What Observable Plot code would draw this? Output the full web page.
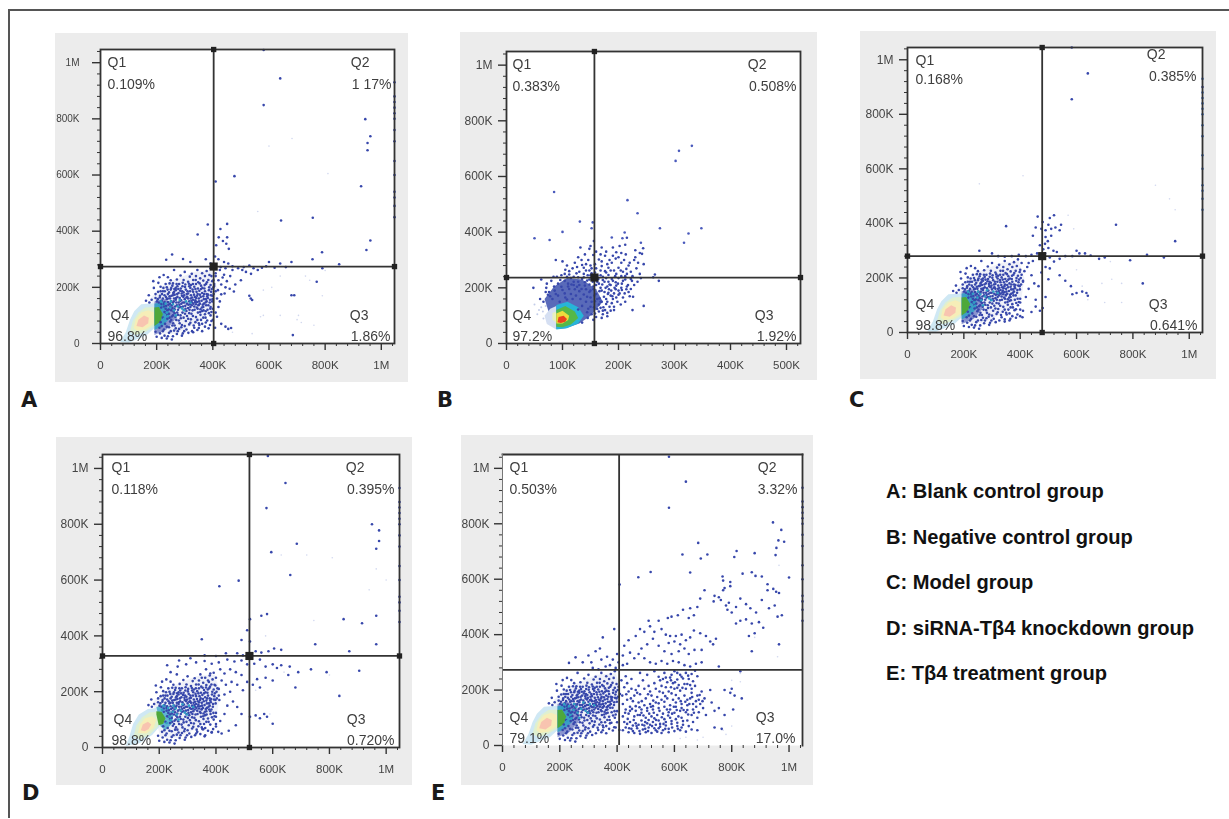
<!DOCTYPE html>
<html><head><meta charset="utf-8">
<script src="https://cdn.jsdelivr.net/npm/d3@7"></script>
<script src="https://cdn.jsdelivr.net/npm/@observablehq/plot@0.6"></script>
<style>
html,body{margin:0;padding:0;background:#fff;}
#fig{position:relative;width:1229px;height:819px;overflow:hidden;font-family:"Liberation Sans",Arial,sans-serif;}
#fig>div{position:absolute;}
.lg{font-weight:bold;font-size:20.1px;color:#111;white-space:nowrap;}
.let{font-family:"DejaVu Sans";font-weight:bold;font-size:21px;color:#1a1a1a;}
svg{display:block;}
</style></head><body><div id="fig"></div>
<script>
// ---------- values (all in thousands of events) ----------
const legendLines=["A: Blank control group","B: Negative control group","C: Model group","D: siRNA-Tβ4 knockdown group","E: Tβ4 treatment group"];
const quadA=["0.109%","1 17%","1.86%","96.8%"], quadB=["0.383%","0.508%","1.92%","97.2%"], quadC=["0.168%","0.385%","0.641%","98.8%"], quadD=["0.118%","0.395%","0.720%","98.8%"], quadE=["0.503%","3.32%","17.0%","79.1%"];
const yTicks=[0,200,400,600,800,1000], yMinor=[40,80,120,160,240,280,320,360,440,480,520,560,640,680,720,760,840,880,920,960,1040];
const xTicks1M=[0,200,400,600,800,1000], xTicks500=[0,100,200,300,400,500];
const xMinor1M=yMinor, xMinor500=[20,40,60,80,120,140,160,180,220,240,260,280,320,340,360,380,420,440,460,480,520];

const rightColumn=[930,880,860,840,820,800,760,720,650,600,540,520,490,450];
const sharedCloud=[[262,262],[300,255],[325,248],[345,262],[362,250],[378,258],[392,268],[285,242],[318,238],[340,240],[355,232],[372,240],[388,244],[240,236],[210,236],[225,244],
[250,225],[272,228],[296,226],[312,220],[330,226],[348,218],[366,224],[384,226],[398,222],[232,212],[258,214],[280,212],[302,210],[322,208],[340,212],[358,206],[376,212],[392,208],[206,216],[188,222],
[190,198],[214,202],[236,200],[250,192],[268,198],[286,196],[304,192],[320,198],[338,194],[352,188],[370,196],[386,190],[402,200],[222,186],[244,182],[262,184],[278,180],[296,182],[312,178],[330,184],[346,176],[362,180],[378,176],[394,184],[410,186],
[172,172],[196,176],[212,170],[228,172],[246,168],[258,172],[274,166],[290,170],[306,164],[322,172],[336,166],[350,160],[366,168],[382,162],[398,170],[182,156],[204,158],[218,152],[236,158],[252,150],[268,156],[284,152],[300,158],[316,150],[330,156],[344,148],[360,152],[378,150],[162,152],[174,146],
[226,142],[242,138],[258,144],[272,136],[288,142],[302,134],[318,140],[334,132],[350,138],[366,130],[384,136],[400,124],[216,128],[232,124],[248,130],[264,122],[280,128],[296,120],[312,126],[328,118],[346,124],[362,116],
[228,112],[244,106],[260,114],[276,102],[292,110],[308,98],[324,106],[340,94],[356,102],[374,92],[392,100],[222,92],[238,88],[254,96],[270,84],[286,90],[304,80],[322,86],[338,76],[358,84],
[214,76],[230,70],[248,78],[264,64],[282,72],[300,62],[316,68],[334,56],[352,66],[372,60],[390,66],[408,56],[210,56],[226,50],[244,58],[262,46],[280,52],[298,44],
[196,42],[212,36],[228,28],[244,38],[258,26],[272,34],[290,28],[200,24],[218,20],[236,18],[254,14],
[256,206],[268,190],[274,204],[284,188],[292,204],[298,172],[310,186],[316,204],[326,164],[328,192],[334,202],[342,184],[344,170],[354,174],[358,194],[368,158],[372,186],[374,146],[380,168],[390,156],[264,174],[270,146],[282,162],[294,146],[308,142],[312,160],[326,146],[338,154],[340,140],[354,142],[356,122],[368,142],[240,176],[248,160],[254,136],[262,160],[276,120],[286,130],[294,132],[306,116],[320,130],[196,162],[208,146],[214,186],[222,160],[228,148],[234,134],[240,148],[238,118],[244,122],[252,118],[258,100],[264,108],[266,132]];
const denseExtra=[[252,198],[259,180],[271,212],[277,194],[289,178],[293,216],[301,201],[307,176],[315,213],[319,186],[324,152],[329,212],[333,174],[337,148],[339,226],[347,196],[349,136],[353,214],[357,166],[363,198],[364,138],[369,176],[371,208],[375,158],[379,218],[383,174],[387,200],[389,146],[393,172],[396,194],[399,158],[403,176],[405,212],[246,214],[239,192],[233,166],[229,186],[224,198],[219,176],[216,140],[211,164],[205,184],[201,150],[226,132],[233,110],[240,160],[247,142],[253,170],[256,126],[261,150],[263,194],[269,162],[273,176],[278,146],[281,138],[287,154],[291,186],[295,166],[299,146],[303,124],[309,166],[313,138],[317,120],[321,160],[325,136],[331,142],[335,120],[341,162],[343,128],[347,110],[351,150],[355,112],[361,128],[367,118],[372,104],[376,136],[381,120],[386,108],[391,124],[395,112],[238,102],[246,92],[252,84],[259,72],[267,94],[273,110],[279,82],[285,100],[290,66],[296,92],[301,106],[312,88],[316,108],[320,74],[329,98],[332,64],[345,84],[350,72],[362,70],[366,92],[380,82],[385,54],[400,84],[218,62],[222,44],[236,60],[240,26],[250,44],[256,64],[268,54],[275,44],[288,58],[293,36],[306,50],[313,38],[326,44],[345,48],[362,44]];
const tealDots=[[215,150],[232,142],[248,128],[262,118],[240,98],[226,88],[258,140],[275,132],[290,125],[305,150],[320,145],[210,135],[236,110],[268,100],[282,155],[298,118],[250,150]];

const sideA=[[581,1045],[640,944],[581,849],[943,799],[961,738],[951,714],[951,688],[928,560],[477,596],[410,577],[756,448],[643,438],[961,367],[947,333],[789,325],[382,424],[346,388],[451,426],[427,408],[451,378],[457,337],[421,378],[436,365],[412,350],[448,355],[255,317],[234,298],[294,301],[320,290],[375,300],[392,285],[408,310],[420,300],[440,290],[455,285],[470,275],[490,268],[510,272],[530,278],[545,268],[560,262],[575,270],[600,290],[590,275],[620,270],[640,285],[660,272],[680,290],[755,300],[790,268],[850,282],[505,262],[518,255],[536,248],[470,262],[445,268],[428,272],[410,240],[420,225],[430,210],[445,200],[460,195],[475,185],[430,175],[415,160],[425,150],[420,130],[410,110],[415,95],[430,70],[445,60],[455,52],[465,55],[530,170],[535,160],[540,155],[680,172],[690,172],[685,30],[770,220],[435,235],[450,222],[462,240],[480,210],[500,225],[405,205],[418,190],[442,178],[410,250],[425,262],[440,245],[395,240],[402,225],[398,150],[392,130],[375,115],[350,55],[330,40],[375,75],[395,80]];
const paleA=[[682,730],[600,703],[810,605],[560,470],[580,100],[570,95],[700,85],[705,100],[715,75],[730,240],[745,225],[790,170],[640,240],[610,200],[580,190],[470,40],[540,35],[640,100],[760,65],[800,260]];

const sideB=[[85,544],[131,438],[100,401],[50,378],[77,372],[154,435],[152,414],[216,515],[234,468],[302,656],[308,692],[331,710],[274,414],[348,414],[325,395],[317,362],[211,399],[188,381],[207,378],[240,362]];
const cloudB=[[71,200],[82,160],[95,150],[105,165],[115,178],[100,192],[88,178],[78,170],[110,205],[122,195],[130,210],[140,220],[148,230],[158,240],[168,245],[178,255],[188,232],[195,220],[206,215],[215,205],[222,196],[228,210],[180,205],[170,190],[160,178],[150,165],[142,150],[135,135],[128,122],[120,110],[146,125],[152,105],[160,95],[156,130],[170,150],[178,160],[186,172],[192,180],[200,190],[208,165],[188,145],[176,120],[198,150],[165,115],[172,105],[155,85],[145,92],[135,75],[125,68],[115,58],[105,52],[96,45],[88,58],[165,140],[175,185],[183,195],[190,160],[168,200],[155,205],[142,195],[130,188],[118,160],[112,140],[120,222],[128,238],[112,248],[105,265],[98,245],[118,270],[130,258],[138,272],[148,262],[158,285],[170,278],[182,272],[165,302],[155,318],[148,340],[176,260],[188,290],[195,305],[205,290],[213,320],[220,290],[230,310],[238,325],[244,342],[245,285],[232,270],[215,250],[225,242],[240,235],[265,248],[272,225],[262,238],[192,262],[200,272],[208,258],[218,280],[178,330],[170,345],[190,345],[202,350],[212,355],[215,380],[88,300],[100,295],[108,280],[122,290],[135,282],[146,300],[140,320],[128,310],[150,350],[156,368],[132,345],[200,235],[212,230],[194,242],[158,255],[145,245],[135,232],[125,252],[115,235],[104,225],[92,215],[85,205],[76,185],[66,150],[60,160],[48,200],[62,230],[120,210],[110,215],[182,222],[172,228],[162,222],[150,245],[142,262],[206,192],[218,185],[226,168],[204,140],[212,150],[192,120],[180,98],[170,92],[245,135],[225,120],[200,175],[195,195],[186,210],[178,235],[168,262],[152,270],[138,250],[128,222],[165,215],[155,195],[148,185],[182,182],[174,168],[166,162],[158,152],[196,208],[190,225],[205,242],[214,268],[222,258],[184,300],[176,315],[196,328],[160,330],[168,320],[205,325],[228,300],[235,290],[242,322],[230,335],
[86,190],[92,172],[98,204],[104,180],[108,158],[112,196],[116,212],[124,172],[126,204],[132,160],[134,196],[138,176],[140,208],[144,168],[148,212],[150,190],[152,150],[154,222],[157,172],[160,210],[162,160],[164,232],[166,188],[168,150],[171,212],[173,130],[175,222],[177,200],[180,150],[181,178],[184,212],[187,190],[189,170],[193,200],[196,165],[199,215],[202,180],[205,200],[208,225],[211,180],[214,195],[217,210],[220,170],[224,225],[192,132],[184,132],[178,142],[186,118],[168,128],[162,124],[158,108],[150,132],[144,112],[180,110],[172,118],[138,238],[144,226],[152,252],[162,244],[172,240],[182,246],[186,262],[196,250],[204,262],[212,242],[222,232],[234,222],[238,250],[120,240],[108,240],[96,228],[90,240],[80,225],[72,215],[84,240],[74,175],[70,185],[126,275],[134,300],[142,285],[150,280],[160,270],[170,295],[180,285],[190,315],[200,310],[210,300],[112,260],[104,250]];
const paleB=[[62,130],[58,120],[50,140],[70,135],[65,115],[55,105],[72,100],[66,90],[78,118],[74,80]];

const sideC=[[583,1045],[640,950],[583,855],[1047,900],[445,355],[455,385],[462,425],[480,405],[475,380],[490,375],[500,395],[510,380],[490,350],[505,420],[520,430],[525,385],[540,375],[545,395],[510,355],[498,335],[488,325],[470,320],[482,305],[500,310],[518,300],[530,295],[350,390],[255,300],[300,290],[322,280],[345,278],[370,280],[395,285],[420,280],[440,285],[460,290],[472,278],[488,290],[505,275],[520,260],[540,270],[560,280],[585,280],[600,300],[610,290],[630,290],[650,282],[680,270],[700,275],[740,395],[790,265],[850,285],[910,275],[950,335],[540,210],[560,190],[580,170],[585,140],[600,145],[620,150],[635,145],[640,135],[470,80],[480,90],[455,120],[465,170],[475,220],[490,240],[505,235],[500,195],[490,130],[450,180],[440,210],[425,240],[430,255],[445,262],[405,255],[415,225],[410,190],[400,230],[430,160],[420,130],[400,110],[385,85],[365,50],[345,40],[400,60],[440,75],[455,95],[410,80],[835,180]];
const paleC=[[410,575],[255,545],[930,490],[570,430],[590,380],[700,280],[720,260],[760,180],[725,195],[690,180],[620,170],[600,230],[640,120],[700,110],[760,110],[880,540],[950,450]];

const sideD=[[583,1045],[645,948],[578,858],[950,800],[975,778],[965,712],[975,740],[685,730],[595,700],[662,618],[480,598],[412,578],[520,460],[560,472],[580,478],[510,420],[520,380],[490,385],[350,388],[850,460],[965,472],[915,445],[750,370],[870,345],[965,370],[630,350],[605,355],[585,345],[560,340],[540,345],[495,330],[475,338],[435,338],[400,328],[360,330],[310,320],[270,312],[228,295],[240,270],[265,290],[295,298],[330,305],[360,310],[385,300],[410,305],[440,315],[465,308],[490,312],[510,298],[535,300],[555,315],[575,290],[600,298],[615,285],[630,295],[660,290],[655,260],[690,270],[735,280],[905,275],[790,270],[835,185],[680,215],[600,240],[575,250],[545,245],[530,225],[555,215],[510,235],[490,260],[470,270],[450,280],[430,265],[415,280],[400,250],[380,265],[365,280],[350,250],[420,240],[435,225],[455,235],[475,225],[495,205],[450,200],[430,190],[410,210],[395,225],[375,235],[365,215],[412,170],[440,150],[460,165],[475,145],[490,120],[520,110],[540,115],[555,105],[570,120],[580,110],[600,85],[430,120],[415,95],[400,75],[445,60],[470,80],[420,50],[385,55],[360,40],[330,50],[355,65],[400,110],[380,130]];
const paleD=[[1000,600],[940,565],[810,680],[720,690],[630,690],[745,455],[575,400],[640,270],[540,205],[590,120],[800,260],[965,640]];

const sideE=[[581,1042],[640,952],[581,858],[944,805],[973,778],[963,740],[983,735],[956,713],[953,687],[683,731],[692,675],[715,689],[628,689],[817,702],[809,680],[880,694],[517,626],[474,607],[655,624],[409,581],[1000,606],
[870,625],[883,612],[838,620],[770,595],[768,610],[795,590],[770,560],[775,568],[795,575],[740,540],[737,520],[755,535],[762,525],[780,505],[790,515],[785,490],[800,480],[815,500],[830,530],[850,510],[865,495],[885,480],[905,525],[925,560],[945,565],[955,555],[965,550],[930,495],[950,505],[960,465],[815,440],[830,450],[850,455],[870,440],[895,445],[910,425],[860,395],[880,405],[965,365],[870,340],[975,470],[905,610],[925,582],[705,560],[690,530],[680,500],[655,495],[668,470],[650,460],[630,490],[612,470],[590,465],[577,460],[545,450],[510,450],[515,430],[480,420],[495,410],[530,410],[555,420],[570,400],[585,395],[605,395],[625,400],[600,375],[580,370],[620,365],[640,380],[655,390],[668,415],[690,405],[710,395],[725,375],[735,365],[745,385],[695,345],[670,345],[650,330],[635,350],[615,340],[590,330],[565,340],[545,360],[525,385],[505,365],[485,350],[465,395],[440,380],[425,360],[445,335],[460,315],[475,330],[495,315],[515,300],[535,295],[555,305],[575,295],[595,305],[615,300],[635,290],[655,285],[675,295],[695,300],[755,285],[830,268],[435,295],[420,290],[405,300],[390,420],[350,390],[340,350],[325,340],[300,325],[280,300],[255,318],[232,298],[310,300],[345,310],[365,320],[385,310],[400,330],[420,325],[375,290],[395,280],[360,285],[335,275],[315,280]];
const cloudE=[[600,268],[640,262],[660,258],[672,270],[620,255],[565,262],[530,268],[480,262],[505,255],[545,248],[585,245],[610,238],[630,242],[650,240],[665,232],[680,250],[672,215],[655,218],[635,222],[615,218],[595,225],[575,228],[555,215],[535,205],[515,195],[495,205],[475,215],[450,240],[430,250],[415,235],[425,210],[440,195],[460,180],[480,185],[500,170],[520,180],[540,175],[560,190],[580,195],[600,205],[620,198],[640,205],[660,190],[680,180],[695,195],[705,170],[690,150],[675,160],[655,170],[635,180],[615,170],[595,165],[575,170],[555,165],[535,155],[515,150],[495,145],[475,155],[455,160],[435,165],[420,150],[430,130],[445,140],[465,125],[485,130],[505,125],[525,130],[545,135],[565,140],[585,145],[605,140],[625,150],[645,145],[665,130],[685,120],[700,135],[680,100],[660,110],[640,120],[620,125],[600,118],[580,120],[560,115],[540,110],[520,105],[500,100],[480,110],[460,105],[440,115],[420,105],[425,85],[445,85],[465,80],[485,90],[505,80],[525,85],[545,90],[565,95],[585,100],[605,95],[625,100],[645,90],[665,85],[650,70],[630,75],[610,70],[590,78],[570,72],[550,68],[530,62],[510,65],[490,58],[470,62],[450,60],[430,65],[420,55],[440,48],[460,45],[480,42],[500,48],[520,45],[540,50],[560,55],[580,60],[600,52],[620,55],[640,50],[660,58],[680,55],[570,245],[590,255],[610,208],[590,188],[570,210],[550,235],[530,225],[510,215],[490,235],[470,190],[450,205],[435,225],[660,205],[645,165],[625,135],[605,155],[585,130],[565,158],[545,152],[525,142],[505,135],[485,118],[465,142],[445,125],[645,128],[665,150],[685,165],[510,92],[530,98],[550,78],[570,85],[590,88],[610,82],[630,88],[495,72],[475,75],[455,72],[435,78],[515,75],[535,75],[725,200],[730,155],[740,125],[755,135],[775,110],[775,200],[795,190],[810,180],[805,130],[800,205],[835,170],[740,65],[765,60],[710,110],[395,65],[375,80],[350,55],
[428,118],[437,96],[452,132],[458,92],[472,110],[478,138],[492,108],[498,85],[512,115],[518,140],[528,118],[536,92],[548,125],[556,102],[562,78],[574,130],[578,108],[592,115],[598,140],[608,128],[614,105],[622,160],[632,128],[638,158],[648,112],[652,150],[668,118],[676,140],[688,182],[698,160],[442,62],[455,52],[468,70],[478,52],[488,75],[498,60],[508,52],[522,70],[535,55],[545,62],[555,45],[568,60],[580,48],[592,65],[612,60],[625,65],[418,180],[432,185],[448,170],[465,200],[486,160],[508,185],[526,162],[548,195],[568,178],[588,210],[605,182],[628,208],[645,222],[662,175],[610,262],[625,248],[648,252],[588,235],[602,228],[560,240]];
const paleE=[[770,55],[780,40],[700,30],[680,20],[640,30],[800,70],[830,260],[800,235],[830,230],[960,320],[965,650],[880,390],[620,25]];

// density contours of the core (pale left of the cut, saturated right of it)
const corePale=[[70,5],[90,40],[105,85],[120,115],[145,140],[192,143],[192,55],[165,30],[130,15],[100,3]];
const coreGreen=[[105,42],[115,80],[135,110],[160,128],[192,130],[192,62],[160,42],[125,30]];
const coreYellow=[[118,55],[125,85],[145,110],[170,118],[190,110],[190,70],[160,50],[130,45]];
const corePink=[[128,62],[135,85],[155,100],[172,92],[170,72],[150,58]];
const haze=[[205,35],[190,90],[180,165],[235,215],[330,255],[395,262],[415,200],[405,130],[345,75],[270,35]];
const sideNavy=[[192,30],[192,150],[225,160],[265,130],[265,85],[235,50]];
const sideTeal=[[192,48],[192,142],[222,150],[245,120],[245,88],[222,62]];
const sideGreen=[[192,62],[192,128],[208,130],[222,105],[214,78]];
const dPale=[[82,5],[95,40],[108,85],[128,118],[160,138],[190,142],[216,125],[205,80],[175,45],[130,15]];
const dGreen=[[110,40],[120,80],[140,108],[165,125],[190,128],[205,112],[195,75],[165,45],[130,30]];
const dYellow=[[125,52],[132,82],[150,105],[175,112],[190,100],[180,70],[155,50]];
const dPink=[[135,62],[142,82],[160,92],[172,82],[162,65],[148,58]];
const dTeal=[[205,75],[190,145],[222,155],[250,118],[245,85],[222,62]];
const dLeaf=[[198,80],[190,118],[190,130],[208,128],[222,105],[214,85]];

const bNavy=[[89,52],[76,110],[68,160],[85,205],[108,235],[135,230],[160,195],[172,150],[150,100],[130,72],[105,55]];
const bPale=[[89,135],[78,125],[68,100],[72,70],[89,50]];
const bPaleYellow=[[89,75],[82,85],[82,110],[89,115]];
const bCyan=[[89,50],[89,138],[109,150],[128,130],[138,100],[128,72],[108,55]];
const bGreen=[[89,60],[89,120],[105,135],[122,115],[128,92],[115,68],[100,58]];
const bYellow=[[89,72],[89,108],[100,118],[112,100],[110,84],[100,72]];
const bRed=[[91,76],[93,95],[102,100],[108,88],[105,78],[97,74]];

// ---------- panels ----------
const C={navy:"#3747ab",teal:"#2f9fc4",grn:"#4ea83a"};
const poly=(d,fill,o=1)=>Plot.line(d,{x:d=>d[0],y:d=>d[1],fill,stroke:"none",fillOpacity:o});
const dots=(d,fill,o=1,r=1.3)=>Plot.dot(d,{x:d=>d[0],y:d=>d[1],r,fill,stroke:"none",fillOpacity:o});
const coreA=[poly(haze,C.navy,.08),poly(corePale,"#cfe8f4"),poly(coreGreen,"#dff0d0"),poly(coreYellow,"#f6eeb8"),poly(corePink,"#f8c4b0"),poly(sideNavy,C.navy,.55),poly(sideTeal,C.teal,.85),poly(sideGreen,C.grn)];
const coreD=[poly(haze,C.navy,.08),poly(dPale,"#cfe8f4"),poly(dGreen,"#dff0d0"),poly(dYellow,"#f6eeb8"),poly(dPink,"#f8c4b0"),poly(dTeal,C.teal,.75),poly(dLeaf,C.grn)];
const coreB=[poly(bNavy,"#2f45a8",.8),poly(bPale,"#d5dff2"),poly(bCyan,"#27b5d8"),poly(bPaleYellow,"#e8f0c0"),poly(bGreen,"#55b848"),poly(bYellow,"#ecdc3c"),poly(bRed,"#e8421e")];

function panel(cfg){
  const {box,frame,xMax,yMax,gx,gy,quad,xt,xm,layers,handles=true,openFrame=false,yFont=12,yPad=6,q}=cfg;
  const [bl,bt,br,bb]=box,[fl,ft,fr,fb]=frame;
  const fmt=v=>v===0?"0":v>=1000?"1M":v+"K";
  const qt=(text,anchor,dx,dy)=>Plot.text([text],{text:d=>d,frameAnchor:anchor,dx,dy,textAnchor:anchor.includes("left")?"start":"end",lineAnchor:"bottom",fontSize:14,fill:"#3e3e3e"});
  const noLabel=()=>"";
  const marks=[
    Plot.frame({fill:"white",stroke:"none"}),
    ...layers,
    Plot.ruleX([gx],{stroke:"#333",strokeWidth:1.8}),
    Plot.ruleY([gy],{stroke:"#333",strokeWidth:1.8}),
    Plot.axisX({ticks:xm,tickSize:3,tickFormat:noLabel,stroke:"#333",label:null}),
    Plot.axisX({ticks:xt,tickSize:7,tickPadding:10,tickFormat:fmt,fontSize:11.5,fill:"#444",stroke:"#333",label:null,strokeWidth:1.4}),
    Plot.axisY({ticks:yMinor,tickSize:3,tickFormat:noLabel,stroke:"#333",label:null}),
    Plot.axisY({ticks:yTicks,tickSize:8,tickPadding:yPad,tickFormat:fmt,fontSize:yFont,fill:"#444",stroke:"#333",label:null,strokeWidth:1.4}),
    qt("Q1","top-left",q.l,17),qt(quad[0],"top-left",q.l,q.v1),
    qt("Q2","top-right",-q.q2,q.t2),qt(quad[1],"top-right",-q.r2,q.t2+22),
    qt("Q3","bottom-right",-q.q3,-24),qt(quad[2],"bottom-right",-q.r3,-3),
    qt("Q4","bottom-left",q.q4,-24),qt(quad[3],"bottom-left",q.l,-3)
  ];
  if(openFrame){
    marks.push(Plot.frame({anchor:"top",stroke:"#333",strokeWidth:1.8}),Plot.frame({anchor:"right",stroke:"#333",strokeWidth:1.8}),Plot.frame({anchor:"left",stroke:"#777",strokeWidth:1}));
  }else{
    marks.push(Plot.frame({stroke:"#333",strokeWidth:1.8}));
  }
  if(handles){
    marks.push(Plot.dot([[gx,gy]],{x:d=>d[0],y:d=>d[1],symbol:"square",r:4.6,fill:"#222"}));
    marks.push(Plot.dot([[gx,yMax],[gx,0],[0,gy],[xMax,gy]],{x:d=>d[0],y:d=>d[1],symbol:"square",r:3,fill:"#222"}));
  }
  const svg=Plot.plot({
    width:br-bl,height:bb-bt,marginLeft:fl-bl,marginRight:br-fr,marginTop:ft-bt,marginBottom:bb-fb,
    x:{domain:[0,xMax],axis:null},y:{domain:[0,yMax],axis:null},
    style:{background:"#ececec",fontFamily:'"Liberation Sans",Arial,sans-serif',filter:"blur(0.45px)"},
    marks
  });
  const w=document.createElement("div");
  w.style.left=bl+"px";w.style.top=bt+"px";
  w.appendChild(svg);
  document.getElementById("fig").appendChild(w);
}
const col=rightColumn.map(y=>[1047,y]);
panel({box:[55,33,408,382],frame:[100,49,394,343],xMax:1047,yMax:1047,gx:403,gy:274,quad:quadA,xt:xTicks1M,xm:xMinor1M,yFont:10,yPad:13,
  q:{l:7,v1:39,q2:25,t2:17,r2:3,q3:26,r3:4,q4:10},
  layers:[dots(paleA,"#7f8fd0",.35,.8),...coreA,dots(sharedCloud,C.navy),dots(denseExtra,C.navy),dots(sideA,C.navy),dots(tealDots,C.teal),dots(col,C.navy)]});
panel({box:[460,32,817,380],frame:[506,51,800,343],xMax:525,yMax:1049,gx:157,gy:237,quad:quadB,xt:xTicks500,xm:xMinor500,
  q:{l:6,v1:39,q2:34,t2:17,r2:4,q3:27,r3:4,q4:6},
  layers:[dots(paleB,"#a9b6e0",.7,1),...coreB,dots(cloudB.filter(d=>d[1]>140||d[0]>125),C.navy),dots(sideB,"#4a5abc")]});
panel({box:[860,31,1216,379],frame:[907,47,1202,332],xMax:1047,yMax:1045,gx:478,gy:280,quad:quadC,xt:xTicks1M,xm:xMinor1M,
  q:{l:8,v1:36,q2:37,t2:11,r2:6,q3:35,r3:5,q4:8},
  layers:[dots(paleC,"#7f8fd0",.35,.8),...coreA,dots(sharedCloud,C.navy),dots(denseExtra,C.navy),dots(sideC,C.navy),dots(tealDots,C.teal),dots(col,"#3f72c9")]});
panel({box:[56,437,412,785],frame:[102,454,399,747],xMax:1047,yMax:1050,gx:518,gy:328,quad:quadD,xt:xTicks1M,xm:xMinor1M,
  q:{l:9,v1:39,q2:35,t2:17,r2:5,q3:34,r3:5,q4:11},
  layers:[dots(paleD,"#7f8fd0",.35,.8),...coreD,dots(sharedCloud,C.navy),dots(denseExtra,C.navy),dots(sideD,C.navy),dots(tealDots,C.teal),dots(col,C.navy)]});
panel({box:[461,435,813,785],frame:[502,454,802,745],xMax:1047,yMax:1050,gx:407,gy:273,quad:quadE,xt:xTicks1M,xm:xMinor1M,handles:false,openFrame:true,yPad:5,
  q:{l:7,v1:39,q2:26,t2:17,r2:5,q3:28,r3:7,q4:7},
  layers:[dots(paleE,"#7f8fd0",.35,.8),...coreA,dots(sharedCloud,C.navy),dots(denseExtra,C.navy),dots(sideE,C.navy),dots(cloudE,C.navy),dots(tealDots,C.teal),dots(col,C.navy)]});

// ---------- outer rule, panel letters, key ----------
const fig=document.getElementById("fig");
const add=(cls,txt,l,t)=>{const e=document.createElement("div");e.className=cls;e.textContent=txt;e.style.left=l+"px";e.style.top=t+"px";fig.appendChild(e);};
const rule=(l,t,w,h)=>{const e=document.createElement("div");e.style.cssText=`left:${l}px;top:${t}px;width:${w}px;height:${h}px;background:#555`;fig.appendChild(e);};
rule(8,9,1221,2);rule(8,9,2,809);
[["A",21,388],["B",437,388],["C",849,388],["D",22,781],["E",431,781]].forEach(([s,l,t])=>add("let",s,l,t));
legendLines.forEach((s,i)=>add("lg",s,886,480+i*45.6));
</script></body></html>
